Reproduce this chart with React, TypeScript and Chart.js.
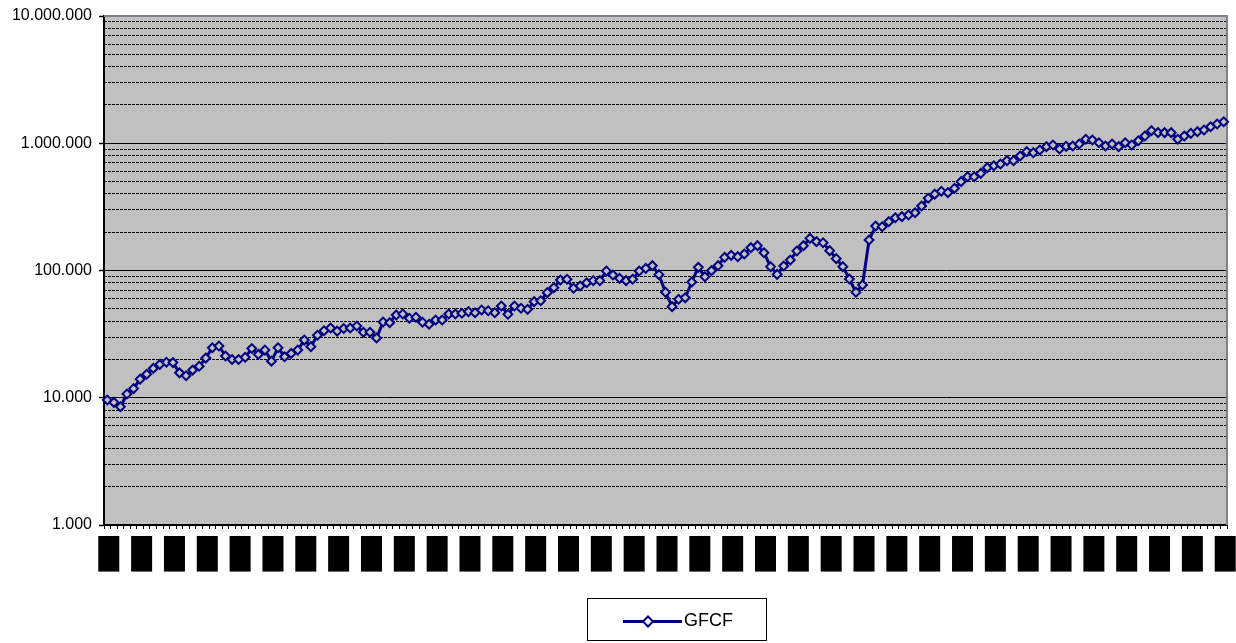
import React, { useEffect, useRef } from 'react';
import { Chart, registerables } from 'chart.js';

Chart.register(...registerables);

// Quarterly periods, 1960 Q1 to 2002 Q3
const firstYear = 1960;
const periodCount = 171;
const categories: string[] = [];
for (let i = 0; i < periodCount; i++) {
  categories.push(`${firstYear + Math.floor(i / 4)}Q${(i % 4) + 1}`);
}

// Gross fixed capital formation
const gfcf: number[] = [
  9600, 9200, 8500, 10700, 11800, 14000, 15300, 17000, 18300, 19000,
  18900, 15700, 14900, 16500, 17700, 20500, 24700, 25500, 21300, 20000,
  20000, 20800, 24400, 21900, 23700, 19400, 24700, 21000, 22300, 23700,
  28400, 25200, 31000, 33600, 35300, 33400, 35000, 35300, 36600, 32700,
  32700, 29500, 39400, 38900, 44700, 45500, 42100, 42900, 39200, 37800,
  40800, 40800, 45500, 45500, 46100, 47500, 46600, 48900, 48300, 46600,
  52600, 45300, 52600, 50500, 49500, 56900, 57900, 67000, 73300, 84200,
  85300, 72500, 75500, 80200, 83200, 83200, 99100, 92200, 86800, 83200,
  85300, 99100, 104000, 109100, 92800, 67400, 52000, 59500, 61000, 81200,
  105900, 89400, 99700, 109100, 126900, 131600, 128400, 134800, 151100, 156700,
  138000, 107200, 93300, 108400, 120900, 142300, 156700, 179000, 168500, 165400,
  143200, 123900, 107200, 85800, 67400, 76900, 173700, 223700, 220900, 241900,
  260000, 264900, 273000, 284600, 321200, 370000, 398000, 420000, 409000, 442000,
  499000, 546000, 546000, 580000, 643000, 666000, 687000, 730000, 730000, 794000,
  859000, 843000, 885000, 940000, 968000, 901000, 946000, 951000, 986000, 1074000,
  1060000, 1010000, 951000, 986000, 940000, 1010000, 968000, 1047000, 1140000, 1256000,
  1211000, 1211000, 1211000, 1074000, 1140000, 1197000, 1233000, 1271000, 1349000, 1416000,
  1476000,
];

// Log axis: labelled decades and the unlabelled steps between them
const decades = [1000, 10000, 100000, 1000000, 10000000];
const decadeLabels = ['1.000', '10.000', '100.000', '1.000.000', '10.000.000'];
const minorSteps = [2, 3, 4, 5, 6, 7, 8, 9];

const yTickValues: number[] = [];
decades.forEach((d, k) => {
  yTickValues.push(d);
  if (k < decades.length - 1) minorSteps.forEach((m) => yTickValues.push(d * m));
});

const FONT = '"Liberation Sans", Arial, sans-serif';
const PLOT_BG = '#C0C0C0';
const SERIES = '#000080';

const isDecade = (ctx: any) => decades.includes(ctx?.tick?.value);

const plotFrame = {
  id: 'plotFrame',
  beforeDraw(chart: any) {
    const { ctx, chartArea: a } = chart;
    ctx.save();
    ctx.fillStyle = PLOT_BG;
    ctx.fillRect(a.left, a.top, a.right - a.left, a.bottom - a.top);
    ctx.restore();
  },
  beforeDatasetsDraw(chart: any) {
    const { ctx, chartArea: a } = chart;
    ctx.save();
    ctx.strokeStyle = '#7f7f8a';
    ctx.lineWidth = 2;
    ctx.beginPath();
    ctx.moveTo(a.left, a.top);
    ctx.lineTo(a.right, a.top);
    ctx.lineTo(a.right, a.bottom);
    ctx.stroke();
    ctx.restore();
  },
};

const boxedLegend = {
  id: 'boxedLegend',
  afterDraw(chart: any) {
    const { ctx } = chart;
    const ds = chart.data.datasets[0];
    const left = 587;
    const top = 598;
    const w = 180;
    const h = 43;
    const midY = 621.5;
    ctx.save();
    ctx.fillStyle = '#fff';
    ctx.fillRect(left, top, w, h);
    ctx.strokeStyle = '#000';
    ctx.lineWidth = 1;
    ctx.strokeRect(left + 0.5, top + 0.5, w - 1, h - 1);
    ctx.strokeStyle = ds.borderColor;
    ctx.lineWidth = 3;
    ctx.beginPath();
    ctx.moveTo(623, midY);
    ctx.lineTo(682, midY);
    ctx.stroke();
    const cx = 648;
    const r = 5;
    ctx.beginPath();
    ctx.moveTo(cx, midY - r);
    ctx.lineTo(cx + r, midY);
    ctx.lineTo(cx, midY + r);
    ctx.lineTo(cx - r, midY);
    ctx.closePath();
    ctx.fillStyle = '#fff';
    ctx.fill();
    ctx.lineWidth = 2;
    ctx.stroke();
    ctx.fillStyle = '#000';
    ctx.font = `18px ${FONT}`;
    ctx.textBaseline = 'alphabetic';
    ctx.textAlign = 'left';
    ctx.fillText(ds.label, 684, 626);
    ctx.restore();
  },
};

export default function App() {
  const canvasRef = useRef<HTMLCanvasElement | null>(null);

  useEffect(() => {
    const canvas = canvasRef.current;
    if (!canvas) return;
    const setTicks = (scale: any) => {
      scale.ticks = yTickValues.map((v) => ({ value: v }));
    };
    const chart = new Chart(canvas, {
      type: 'line',
      data: {
        labels: categories,
        datasets: [
          {
            label: 'GFCF',
            data: gfcf,
            borderColor: SERIES,
            borderWidth: 3,
            pointStyle: 'rectRot',
            pointRadius: 4.4,
            pointBorderWidth: 2,
            pointBorderColor: SERIES,
            pointBackgroundColor: PLOT_BG,
            tension: 0,
            clip: false as any,
          },
        ],
      },
      options: {
        responsive: false,
        animation: false,
        devicePixelRatio: 1,
        layout: { padding: { left: 0, right: 9, top: 16, bottom: 0 } },
        plugins: {
          legend: { display: false },
          tooltip: { enabled: false },
        },
        scales: {
          x: {
            type: 'category',
            offset: true,
            grid: {
              display: true,
              offset: true,
              drawOnChartArea: false,
              drawTicks: true,
              tickLength: 4,
              tickColor: '#000',
              tickWidth: 1,
            },
            border: { display: true, color: '#000', width: 2 },
            ticks: {
              autoSkip: false,
              minRotation: 90,
              maxRotation: 90,
              padding: 7,
              color: '#000',
              font: { family: FONT, size: 10 },
              showLabelBackdrop: (c: any) => c.index % 5 === 0,
              backdropColor: '#000',
              backdropPadding: { top: 9, bottom: 0, left: 0, right: 0 },
              callback: (_v: any, i: number) => (i % 5 === 0 ? categories[i] : ''),
            } as any,
            afterFit: (s: any) => {
              s.height = 118;
              s.paddingLeft = 0;
              s.paddingRight = 0;
            },
          },
          y: {
            type: 'logarithmic',
            position: 'left',
            min: 1000,
            max: 10000000,
            afterBuildTicks: setTicks,
            ticks: {
              autoSkip: false,
              color: '#000',
              padding: 7,
              font: { family: FONT, size: 16 },
              callback: (v: any) => {
                const k = decades.indexOf(Number(v));
                return k >= 0 ? decadeLabels[k] : '';
              },
            },
            grid: {
              color: (c: any) => (isDecade(c) ? '#000' : 'rgba(0,0,0,0)'),
              lineWidth: 1,
              drawTicks: true,
              tickLength: 5,
              tickColor: (c: any) => (isDecade(c) ? '#000' : 'rgba(0,0,0,0)'),
              tickWidth: 1.5,
            },
            border: { color: '#000', width: 2 },
            afterFit: (s: any) => {
              s.width = 104;
              s.paddingTop = 0;
              s.paddingBottom = 0;
            },
          },
          yMinor: {
            type: 'logarithmic',
            position: 'left',
            min: 1000,
            max: 10000000,
            afterBuildTicks: setTicks,
            ticks: { display: false },
            grid: {
              color: (c: any) => (isDecade(c) ? 'rgba(0,0,0,0)' : '#000'),
              lineWidth: 1,
              drawTicks: false,
            },
            border: { display: false, dash: [3, 1] },
            afterFit: (s: any) => {
              s.width = 0;
              s.paddingTop = 0;
              s.paddingBottom = 0;
            },
          },
        } as any,
      },
      plugins: [plotFrame, boxedLegend],
    });
    return () => chart.destroy();
  }, []);

  return (
    <div style={{ position: 'fixed', left: 0, top: 0, width: 1236, height: 643, background: '#fff' }}>
      <canvas ref={canvasRef} width={1236} height={643} style={{ display: 'block' }} />
    </div>
  );
}
